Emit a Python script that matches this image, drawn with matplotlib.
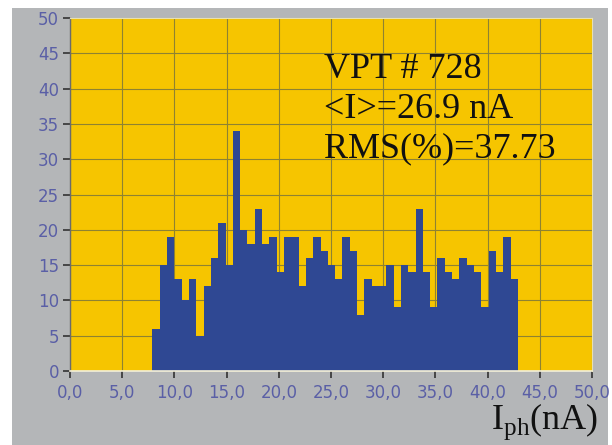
import matplotlib
matplotlib.use("Agg")
import matplotlib.pyplot as plt
import numpy as np
from matplotlib.patches import Rectangle

# photocurrent histogram, 50 bins of 0.7 nA starting at 7.9 nA
bin_start = 7.9
bin_width = 0.7
counts = [
    6, 15, 19, 13, 10, 13, 5, 12, 16, 21, 15, 34, 20, 18, 23, 18,
    19, 14, 19, 19, 12, 16, 19, 17, 15, 13, 19, 17, 8, 13, 12, 12, 15,
    9, 15, 14, 23, 14, 9, 16, 14, 13, 16, 15, 14, 9, 17, 14, 19, 13,
]
x_ticks = np.arange(0, 50.1, 5)
x_ticklabels = [f"{v:.1f}".replace(".", ",") for v in x_ticks]
y_ticks = np.arange(0, 51, 5)
info_lines = ["VPT # 728", "<I>=26.9 nA", "RMS(%)=37.73"]

edges = bin_start + bin_width * np.arange(len(counts))

fig = plt.figure(figsize=(6.12, 4.45), dpi=100)
fig.patch.set_facecolor("white")
panel = Rectangle((12 / 612, 0), 596 / 612, 437 / 445,
                  transform=fig.transFigure, facecolor="#b4b6b8",
                  edgecolor="none", zorder=-1)
fig.add_artist(panel)

ax = fig.add_axes([70 / 612, 74 / 445, 522 / 612, 353 / 445])
ax.set_zorder(1)
ax.set_facecolor("#f6c500")
ax.bar(edges, counts, width=bin_width, align="edge", color="#2f4893",
       edgecolor="none", zorder=2)

ax.set_xlim(0, 50)
ax.set_ylim(0, 50)
ax.set_xticks(x_ticks)
ax.set_xticklabels(x_ticklabels)
ax.set_yticks(y_ticks)
ax.grid(True, color="#8e8232", linewidth=0.8, zorder=1)
ax.set_axisbelow(True)

lab_color = "#5a5fa6"
ax.tick_params(axis="both", colors="#333333", labelcolor=lab_color,
               labelsize=12, length=5, width=1.2, direction="out")
ax.tick_params(axis="y", pad=3)
ax.tick_params(axis="x", pad=4)

for side in ["top", "right"]:
    ax.spines[side].set_color("#e8e0b0")
    ax.spines[side].set_linewidth(0.8)
ax.spines["left"].set_color("#6b6b6b")
ax.spines["bottom"].set_color("#f4f0d8")
ax.spines["left"].set_linewidth(1)
ax.spines["bottom"].set_linewidth(1.2)

for i, line in enumerate(info_lines):
    ax.text(24.3, 42.75 - i * 5.67, line, family="Liberation Serif",
            fontsize=26, color="#111111", va="center", ha="left", zorder=3)

fig.text(598 / 612, (445 - 422) / 445, r"I$_{\mathregular{ph}}$(nA)",
         family="Liberation Serif", fontsize=26, color="#111111",
         ha="right", va="center", zorder=2)

fig.savefig("out.png", dpi=100, facecolor=fig.get_facecolor())
